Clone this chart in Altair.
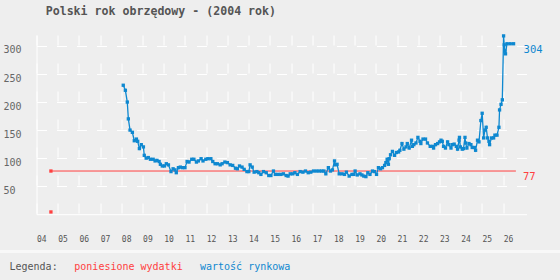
import altair as alt
import pandas as pd

# ---- data ----
blue_year = [
    2008.09, 2008.19, 2008.28, 2008.33, 2008.41, 2008.52, 2008.61, 2008.71, 2008.77, 2008.85,
    2008.94, 2009.04, 2009.08, 2009.17, 2009.27, 2009.37, 2009.50, 2009.59, 2009.68, 2009.78,
    2009.84, 2009.93, 2010.03, 2010.12, 2010.22, 2010.34, 2010.44, 2010.53, 2010.59, 2010.69,
    2010.78, 2010.88, 2011.00, 2011.10, 2011.19, 2011.32, 2011.42, 2011.54, 2011.63, 2011.76,
    2011.85, 2011.98, 2012.08,
    2012.22, 2012.31, 2012.42, 2012.53, 2012.66, 2012.75, 2012.88, 2013.00, 2013.13, 2013.25,
    2013.38, 2013.47, 2013.57, 2013.69, 2013.79, 2013.92, 2014.01, 2014.07, 2014.17, 2014.26,
    2014.39, 2014.48, 2014.58, 2014.70, 2014.83, 2014.95, 2015.05, 2015.17, 2015.26, 2015.39,
    2015.52, 2015.64, 2015.77, 2015.86, 2015.96, 2016.08, 2016.18, 2016.30, 2016.43, 2016.56,
    2016.68, 2016.81, 2016.93, 2017.06,
    2017.20, 2017.33, 2017.45, 2017.55, 2017.64, 2017.76, 2017.86, 2017.95, 2018.05, 2018.08,
    2018.17, 2018.27, 2018.40, 2018.52, 2018.61, 2018.74, 2018.87, 2018.96, 2019.02, 2019.12,
    2019.25, 2019.34, 2019.43, 2019.53, 2019.62, 2019.72, 2019.84, 2019.93, 2020.03, 2020.12,
    2020.22, 2020.31, 2020.41, 2020.47, 2020.53, 2020.59, 2020.63, 2020.69, 2020.78, 2020.88,
    2020.97, 2021.07, 2021.13, 2021.23, 2021.32, 2021.42, 2021.48, 2021.57, 2021.68, 2021.72,
    2021.79, 2021.89, 2021.98, 2022.08,
    2022.12, 2022.22, 2022.34, 2022.43, 2022.56, 2022.69, 2022.72, 2022.81, 2022.91, 2023.00,
    2023.07, 2023.13, 2023.19, 2023.28, 2023.38, 2023.44, 2023.54, 2023.60, 2023.69, 2023.79,
    2023.85, 2023.92, 2023.94, 2023.98, 2024.07, 2024.13, 2024.20, 2024.23, 2024.29, 2024.39,
    2024.48, 2024.54, 2024.64, 2024.70, 2024.79, 2024.86, 2024.95, 2025.01, 2025.08, 2025.14,
    2025.20, 2025.26, 2025.33, 2025.36, 2025.45, 2025.55, 2025.61, 2025.71, 2025.80, 2025.83,
    2025.90, 2025.96, 2026.02, 2026.05, 2026.08, 2026.11, 2026.18, 2026.33, 2026.49,
]
blue_value = [
    230, 221, 200, 170, 150, 146, 131, 134, 130, 117,
    124, 120, 105, 100, 101, 98, 98, 95, 96, 94,
    89, 86, 86, 90, 88, 76, 81, 79, 74, 83,
    84, 83, 83, 94, 93, 98, 98, 93, 95, 99,
    95, 98, 99,
    99, 94, 90, 90, 88, 90, 93, 92, 88, 87,
    82, 81, 86, 84, 80, 76, 76, 88, 84, 75,
    76, 74, 71, 76, 74, 69, 69, 77, 71, 71,
    71, 72, 69, 68, 72, 72, 74, 71, 76, 75,
    77, 74, 75, 77,
    77, 77, 77, 77, 72, 83, 77, 79, 95, 88,
    89, 72, 72, 71, 75, 68, 71, 71, 77, 70,
    72, 70, 68, 67, 74, 71, 77, 76, 71, 83,
    81, 83, 87, 92, 98, 89, 99, 106, 112, 105,
    110, 111, 114, 126, 116, 120, 126, 118, 132, 121,
    124, 127, 137, 130,
    126, 134, 134, 127, 121, 121, 118, 124, 126, 129,
    132, 130, 121, 118, 129, 124, 118, 124, 125, 121,
    116, 132, 137, 120, 116, 117, 137, 127, 118, 126,
    124, 119, 119, 114, 132, 129, 167, 180, 136, 150,
    155, 136, 130, 124, 136, 136, 141, 141, 155, 186,
    196, 204, 318, 302, 291, 286, 304, 304, 304,
]
red_point_year = [2004.68, 2004.68]
red_point_value = [4, 77]
red_line_year = [2004.68, 2026.6]
red_line_value = [77, 77]

x_ticks = list(range(2004, 2027))
y_ticks = [50, 100, 150, 200, 250, 300]
title_text = "Polski rok obrzędowy - (2004 rok)"
legend_labels = ["Legenda:", "poniesione wydatki", "wartość rynkowa"]

BLUE = "#0e88d0"
RED = "#ff4040"
FONT = "DejaVu Sans Mono"

blue_df = pd.DataFrame({"year": blue_year, "value": blue_value})
red_pts = pd.DataFrame({"year": red_point_year, "value": red_point_value})
red_line_df = pd.DataFrame({"year": red_line_year, "value": red_line_value})
blue_last = blue_df.tail(1).assign(label=lambda d: d["value"].astype(int).astype(str))
red_last = red_line_df.tail(1).assign(label=lambda d: d["value"].astype(int).astype(str))

x_scale = alt.Scale(domain=[2004, 2027.1], nice=False, zero=False)
y_scale = alt.Scale(domain=[0, 319.6], nice=False, zero=True)

x_axis = alt.Axis(
    values=x_ticks, labelExpr="format(datum.value % 100, '02d')", title=None,
    grid=True, gridColor="white", gridWidth=1, gridDash=[10, 18],
    domainColor="white", domainWidth=1, tickSize=0,
    labelAlign="left", labelBaseline="middle", labelPadding=25.5,
    labelFont=FONT, labelFontSize=8, labelColor="#555555",
    labelFlush=False, labelOverlap=False,
)
y_axis = alt.Axis(
    values=y_ticks, title=None,
    grid=True, gridColor="white", gridWidth=1, gridDash=[10, 10],
    domainColor="white", domainWidth=1, tickSize=0,
    labelAlign="left", labelBaseline="middle", labelPadding=33.5, labelOffset=4,
    labelFont=FONT, labelFontSize=10, labelColor="#666666",
)

X = alt.X("year:Q", scale=x_scale, axis=x_axis)
Y = alt.Y("value:Q", scale=y_scale, axis=y_axis)

one = pd.DataFrame({"a": [0]})

separator = alt.Chart(one).mark_rule(color="#f8f8f8", strokeWidth=3).encode(
    x=alt.value(-36.5), x2=alt.value(523.5), y=alt.value(216.5)
)

red_line = alt.Chart(red_line_df).mark_line(color=RED, strokeWidth=1).encode(x=X, y=Y)
red_points = alt.Chart(red_pts).mark_point(
    shape="square", filled=True, size=11, color=RED, opacity=1
).encode(x=X, y=Y)

blue_line = alt.Chart(blue_df).mark_line(color=BLUE, strokeWidth=1.3).encode(x=X, y=Y)
blue_points = alt.Chart(blue_df).mark_point(
    shape="square", filled=True, size=11, color=BLUE, opacity=1
).encode(x=X, y=Y)

blue_lab = alt.Chart(blue_last).mark_text(
    align="left", baseline="middle", dx=10, dy=6, color=BLUE, font=FONT, fontSize=10.5
).encode(x=X, y=Y, text="label:N")
red_lab = alt.Chart(red_last).mark_text(
    align="left", baseline="middle", dx=7, dy=6, color=RED, font=FONT, fontSize=10.5
).encode(x=X, y=Y, text="label:N")

title = alt.Chart(one).mark_text(
    align="left", baseline="middle", font=FONT, fontSize=11.6, fontWeight="bold",
    color="#555555", text=title_text
).encode(x=alt.value(9.2), y=alt.value(-23))

leg0 = alt.Chart(one).mark_text(
    align="left", baseline="middle", font=FONT, fontSize=10, color="#555555",
    text=legend_labels[0]
).encode(x=alt.value(-27), y=alt.value(232))
leg1 = alt.Chart(one).mark_text(
    align="left", baseline="middle", font=FONT, fontSize=10, color=RED,
    text=legend_labels[1]
).encode(x=alt.value(37.8), y=alt.value(232))
leg2 = alt.Chart(one).mark_text(
    align="left", baseline="middle", font=FONT, fontSize=10, color=BLUE,
    text=legend_labels[2]
).encode(x=alt.value(163.5), y=alt.value(232))

chart = alt.layer(
    separator, red_line, red_points, blue_line, blue_points,
    blue_lab, red_lab, title, leg0, leg1, leg2
).properties(
    width=490, height=179.2,
    padding={"left": 36.5, "top": 35, "right": 33.5, "bottom": 65.8},
    autosize="none", background="#eeeeee",
).configure_view(strokeWidth=0)

chart.save("out.html", embed_options={"renderer": "svg", "actions": False})
